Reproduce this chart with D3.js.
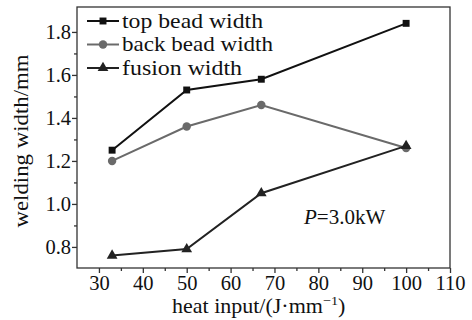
<!DOCTYPE html>
<html>
<head>
<meta charset="utf-8">
<script src="https://cdn.jsdelivr.net/npm/d3@7/dist/d3.min.js"></script>
<style>
  html, body { margin: 0; padding: 0; background: #fff; }
  svg { display: block; }
  svg text { font-family: "Liberation Serif", "Times New Roman", serif; }
</style>
</head>
<body>
<svg id="chart" width="472" height="320"></svg>
<script>
// Heat input (J/mm) and measured widths (mm) at P = 3.0 kW
const heatInput = [33, 50, 67, 100];
const topBead = [1.25, 1.53, 1.58, 1.84];
const backBead = [1.20, 1.36, 1.46, 1.26];
const fusion = [0.76, 0.79, 1.05, 1.27];

const seriesNames = ["top bead width", "back bead width", "fusion width"];
const xTicks = [30, 40, 50, 60, 70, 80, 90, 100, 110];
const yTicks = [0.8, 1.0, 1.2, 1.4, 1.6, 1.8];
const xMinor = [35, 45, 55, 65, 75, 85, 95, 105];
const yMinor = [0.9, 1.1, 1.3, 1.5, 1.7];

const serif = '"Liberation Serif", "Times New Roman", serif';
const svg = d3.select("#chart");
const plotL = 77, plotR = 450, plotT = 7, plotB = 268;

const x = d3.scaleLinear().domain([25, 110]).range([plotL, plotR]);
const y = d3.scaleLinear().domain([0.702, 1.916]).range([plotB, plotT]);

const series = [
  { name: seriesNames[0], values: topBead, color: "#111", symbol: d3.symbolSquare, size: 48, tl: 141 },
  { name: seriesNames[1], values: backBead, color: "#6a6a6a", symbol: d3.symbolCircle, size: 56, tl: 151 },
  { name: seriesNames[2], values: fusion, color: "#222", symbol: d3.symbolTriangle, size: 50, tl: 120 }
];

// frame
svg.append("rect")
  .attr("x", plotL).attr("y", plotT)
  .attr("width", plotR - plotL).attr("height", plotB - plotT)
  .attr("fill", "none").attr("stroke", "#333").attr("stroke-width", 1.3);

// x axis: minor ticks, then labelled major ticks
const xAxis = svg.append("g").attr("transform", `translate(0,${plotB})`);
xAxis.append("g").call(d3.axisBottom(x).tickValues(xMinor).tickSize(3))
  .call(g => { g.select(".domain").remove(); g.selectAll("text").remove(); });
xAxis.append("g").call(d3.axisBottom(x).tickValues(xTicks).tickSize(5).tickPadding(2).tickFormat(d3.format("d")))
  .call(g => g.select(".domain").remove());
xAxis.selectAll("g").attr("font-family", null);
xAxis.selectAll("line").attr("stroke", "#333").attr("stroke-width", 1.3);
xAxis.selectAll("text").style("font-family", serif).attr("font-size", 20.5).attr("fill", "#111");

// y axis: minor ticks, then labelled major ticks
const yAxis = svg.append("g").attr("transform", `translate(${plotL},0)`);
yAxis.append("g").call(d3.axisLeft(y).tickValues(yMinor).tickSize(3))
  .call(g => { g.select(".domain").remove(); g.selectAll("text").remove(); });
yAxis.append("g").call(d3.axisLeft(y).tickValues(yTicks).tickSize(5).tickPadding(1).tickFormat(d3.format(".1f")))
  .call(g => g.select(".domain").remove());
yAxis.selectAll("g").attr("font-family", null);
yAxis.selectAll("line").attr("stroke", "#333").attr("stroke-width", 1.3);
yAxis.selectAll("text").style("font-family", serif).attr("font-size", 20.5).attr("fill", "#111");

// series lines and markers
const line = d3.line().x((d, i) => x(heatInput[i])).y(d => y(d));
series.forEach(s => {
  svg.append("path").datum(s.values)
    .attr("d", line).attr("fill", "none")
    .attr("stroke", s.color).attr("stroke-width", 2);
  svg.append("g").selectAll("path").data(s.values).join("path")
    .attr("transform", (d, i) => `translate(${x(heatInput[i])},${y(d)})`)
    .attr("d", d3.symbol().type(s.symbol).size(s.size))
    .attr("fill", s.color);
});

// legend
const legend = svg.append("g");
series.forEach((s, i) => {
  const ly = 21 + i * 23.5;
  legend.append("line").attr("x1", 87).attr("x2", 119).attr("y1", ly).attr("y2", ly)
    .attr("stroke", s.color).attr("stroke-width", 2);
  legend.append("path").attr("transform", `translate(103,${ly})`)
    .attr("d", d3.symbol().type(s.symbol).size(s.size)).attr("fill", s.color);
  legend.append("text").attr("x", 122).attr("y", ly + 6.5)
    .attr("font-size", 22).attr("fill", "#111")
    .attr("textLength", s.tl).attr("lengthAdjust", "spacingAndGlyphs")
    .text(s.name);
});

// axis titles
svg.append("text")
  .attr("transform", "translate(28,141) rotate(-90)")
  .attr("text-anchor", "middle").attr("font-size", 21).attr("fill", "#111")
  .attr("textLength", 173).attr("lengthAdjust", "spacingAndGlyphs")
  .text("welding width/mm");

const xt = svg.append("text")
  .attr("transform", "translate(172,313) scale(1.1,1)")
  .attr("font-size", 20).attr("fill", "#111");
xt.append("tspan").text("heat input/(J·mm");
xt.append("tspan").attr("dy", -8).attr("font-size", 13).text("−1");
xt.append("tspan").attr("dy", 8).text(")");

// annotation
const ann = svg.append("text").attr("x", 304).attr("y", 224).attr("font-size", 21).attr("fill", "#111");
ann.append("tspan").attr("font-style", "italic").text("P");
ann.append("tspan").text("=3.0kW");
</script>
</body>
</html>
